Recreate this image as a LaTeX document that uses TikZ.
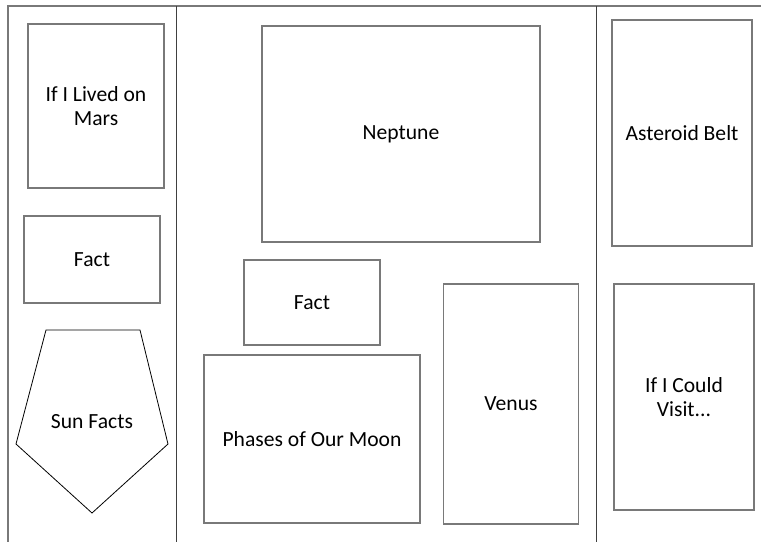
\documentclass[tikz,border=0pt]{standalone}
\usepackage{fontspec}
\setmainfont{Carlito}
\begin{document}
\begin{tikzpicture}[x=0.5pt, y=-0.5pt,
    panel/.style={draw=gray!95!black, line width=0.65pt, align=center, inner sep=0pt},
    divider/.style={draw=black!75, line width=0.5pt},
    frame/.style={draw=gray!95!black, line width=0.65pt}]
    \useasboundingbox (0,0) rectangle (761,542);
    \fontsize{10.8pt}{12pt}\selectfont

    % Frame and column dividers
    \draw[frame] (761,6) -- (8,6) -- (8,542);
    \draw[divider] (176,6) -- (176,542);
    \draw[divider] (596,6) -- (596,542);

    % Left column
    \node[panel, minimum width=68pt, minimum height=82pt] (mars) at (96,106) {If I Lived on\\Mars};
    \node[panel, minimum width=68pt, minimum height=43.5pt] (factleft) at (92,259.5) {Fact};
    \draw[black, line width=0.4pt] (46,330) -- (140,330) -- (168,444) -- (92,513) -- (16,444) -- cycle;
    \node (sun) at (92,422) {Sun Facts};

    % Middle column
    \node[panel, minimum width=139pt, minimum height=108pt] (neptune) at (401,134) {Neptune};
    \node[panel, minimum width=68pt, minimum height=42.5pt] (factmid) at (312,302.5) {Fact};
    \node[panel, minimum width=108pt, minimum height=84pt] (moon) at (312,439) {Phases of Our Moon};
    \node[panel, minimum width=67.5pt, minimum height=120pt] (venus) at (511,404) {Venus};

    % Right column
    \node[panel, minimum width=70pt, minimum height=113pt] (asteroid) at (682,133) {Asteroid Belt};
    \node[panel, minimum width=70pt, minimum height=113pt] (visit) at (684,397) {If I Could\\Visit...};

\end{tikzpicture}
\end{document}
